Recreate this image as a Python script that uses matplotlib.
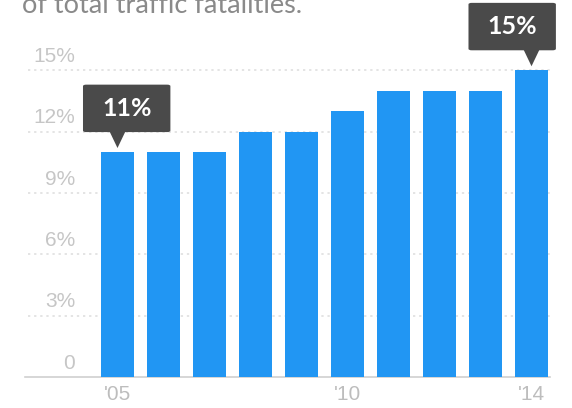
import matplotlib.pyplot as plt
from matplotlib.patches import FancyBboxPatch, Polygon
import numpy as np

# share of total traffic fatalities, 2005-2014
years = ['2005', '2006', '2007', '2008', '2009', '2010', '2011', '2012', '2013', '2014']
share = [11, 11, 11, 12, 12, 13, 14, 14, 14, 15]
ytick_vals = [0, 3, 6, 9, 12, 15]
ytick_labels = ['0', '3%', '6%', '9%', '12%', '15%']
xtick_idx = [0, 5, 9]
xtick_labels = ["'05", "'10", "'14"]
# callouts: (bar index, label, horizontal shift of box)
callouts = [(0, '11%', 0.2), (9, '15%', -0.42)]

plt.rcParams['font.family'] = ['Lato', 'DejaVu Sans']
tick_font = ['Liberation Sans', 'DejaVu Sans']

fig = plt.figure(figsize=(5.72, 4.08), dpi=100)
ax = fig.add_axes([0, 0, 1, 1])
ax.set_xlim(-2.554, 9.88)
ax.set_ylim(-1.516, 18.44)
ax.axis('off')

x = np.arange(len(years))

# dotted gridlines + labels
for v, lab in zip(ytick_vals, ytick_labels):
    if v > 0:
        ax.plot([-1.95, 9.4], [v, v], color='#dcdcdc', lw=1.1,
                linestyle=(0, (1.5, 2.5)), zorder=1)
    ax.text(-0.92, v + 0.22, lab, ha='right', va='bottom', fontsize=15,
            color='#c6c6c6', family=tick_font)

ax.plot([-2.0, 9.4], [0, 0], color='#d0d0d0', lw=1.2, zorder=1)

ax.bar(x, share, width=0.72, color='#2196f3', zorder=2)

for i, lab in zip(xtick_idx, xtick_labels):
    ax.text(x[i], -0.4, lab, ha='center', va='top', fontsize=15,
            color='#bdbdbd', family=tick_font)

# dark callout boxes with pointer
for i, lab, dx in callouts:
    v = share[i]
    cx = x[i] + dx
    bw = 1.9
    b0, b1 = v + 0.98, v + 3.3
    box = FancyBboxPatch((cx - bw / 2, b0), bw, b1 - b0,
                         boxstyle='round,pad=0,rounding_size=0.07',
                         mutation_aspect=1.0,
                         fc='#4a4a4a', ec='none', zorder=4)
    ax.add_patch(box)
    tri = Polygon([[x[i] - 0.17, b0 + 0.02], [x[i] + 0.17, b0 + 0.02], [x[i], v + 0.2]],
                  closed=True, fc='#4a4a4a', ec='none', zorder=4)
    ax.add_patch(tri)
    ax.text(cx, (b0 + b1) / 2, lab, ha='center', va='center', fontsize=18,
            fontweight='bold', color='white', zorder=5)

# subtitle, cut off at top (as in the source image)
ax.text(-2.08, 17.8, 'of total traffic fatalities.', ha='left', va='baseline',
        fontsize=19.5, color='#8a8a8a')

fig.savefig('out.png', dpi=100)
